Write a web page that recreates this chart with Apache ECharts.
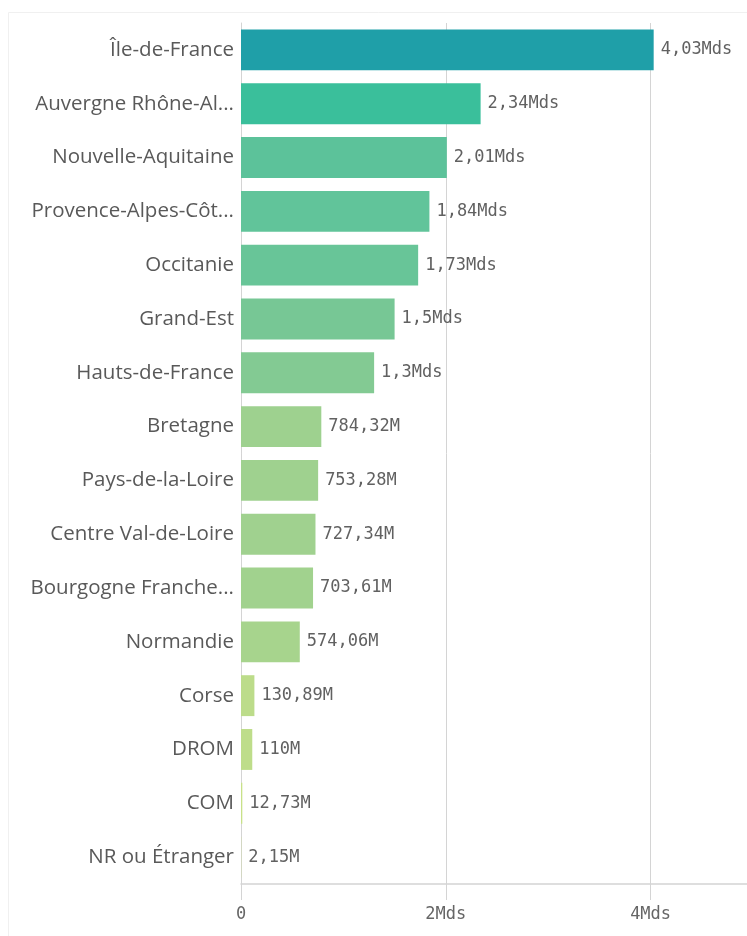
<!DOCTYPE html>
<html>
<head>
<meta charset="utf-8">
<script src="https://cdn.jsdelivr.net/npm/echarts@6/dist/echarts.min.js"></script>
<style>
html,body{margin:0;padding:0;background:#fff;}
#c{width:747px;height:936px;}
</style>
</head>
<body>
<div id="c"></div>
<script>
const categories = ['Île-de-France','Auvergne Rhône-Al...','Nouvelle-Aquitaine','Provence-Alpes-Côt...','Occitanie','Grand-Est','Hauts-de-France','Bretagne','Pays-de-la-Loire','Centre Val-de-Loire','Bourgogne Franche...','Normandie','Corse','DROM','COM','NR ou Étranger'];
const values = [4.03e9, 2.34e9, 2.01e9, 1.84e9, 1.73e9, 1.5e9, 1.3e9, 784.32e6, 753.28e6, 727.34e6, 703.61e6, 574.06e6, 130.89e6, 110e6, 12.73e6, 2.15e6];
const barColors = ['#1f9fa8','#3abf9b','#5cc29a','#61c49a','#68c598','#77c795','#83ca93','#9ed18f','#9fd18f','#a0d18f','#a1d28e','#a7d48d','#bcdc8a','#bedd8a','#c8e189','#cfe489'];
const xTicks = [0, 2e9, 4e9];

function fmtVal(v){
  let s;
  if (v >= 1e9) s = (v/1e9).toFixed(2).replace(/\.?0+$/,'') + 'Mds';
  else s = (v/1e6).toFixed(2).replace(/\.?0+$/,'') + 'M';
  return s.replace('.', ',');
}

const chart = echarts.init(document.getElementById('c'), null, {renderer:'canvas'});
chart.setOption({
  animation:false,
  backgroundColor:'#ffffff',
  graphic:[{type:'rect', shape:{x:8.5,y:12.5,width:760,height:940}, style:{fill:'none', stroke:'#f0f0f0', lineWidth:1}, silent:true}],
  grid:{left:241, width:512, top:23, bottom:52, containLabel:false, outerBoundsMode:'none'},
  xAxis:{
    type:'value', min:0, max:5e9, interval:2e9,
    axisLine:{show:true, lineStyle:{color:'#d4d4d4', width:1.5}},
    axisTick:{show:true, length:16, lineStyle:{color:'#d4d4d4'}},
    splitLine:{show:true, lineStyle:{color:'#d4d4d4', width:1}},
    axisLabel:{
      showMaxLabel:false, margin:22, color:'#666666',
      fontFamily:'DejaVu Sans Mono', fontSize:17,
      formatter:function(v){ if (xTicks.indexOf(v) < 0) return ''; return v===0 ? '0' : (v/1e9)+'Mds'; }
    }
  },
  yAxis:{
    type:'category', inverse:true, data:categories,
    axisLine:{show:true, lineStyle:{color:'#d4d4d4', width:1}},
    axisTick:{show:false},
    axisLabel:{margin:7, color:'#595959', fontFamily:'Open Sans', fontSize:20.5}
  },
  series:[{
    type:'bar', barWidth:'76%',
    data: values.map((v,i)=>({value:v, itemStyle:{color:barColors[i]}})),
    label:{show:true, position:'right', distance:7, color:'#616161', fontFamily:'DejaVu Sans Mono', fontSize:17, formatter:p=>fmtVal(p.value)}
  }]
});
</script>
</body>
</html>
